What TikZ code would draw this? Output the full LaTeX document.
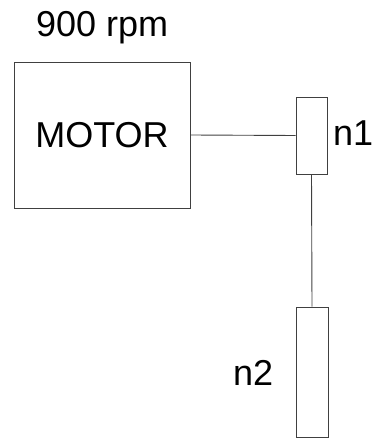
\documentclass[tikz,border=0pt]{standalone}
\usepackage{fontspec}
\setmainfont{Liberation Sans}
\begin{document}
\begin{tikzpicture}[x=1pt, y=-1pt,
  part/.style={draw=black!75, line width=0.9pt, inner sep=0pt},
  lbl/.style={inner sep=0pt, anchor=base west, font=\fontsize{36}{40}\selectfont}]
\useasboundingbox (0,0) rectangle (372,438);

% Motor
\node[part, minimum width=176pt, minimum height=146pt, font=\fontsize{36}{40}\selectfont] (motor) at (102,135) {MOTOR};
\node[lbl] (speed) at (36,37) {900 rpm};

% Pulleys
\node[part, minimum width=31pt, minimum height=77pt] (n1) at (311.5,135.5) {};
\node[part, minimum width=32pt, minimum height=130pt] (n2) at (312,372) {};
\node[lbl] (n1lbl) at (333,146) {n1};
\node[lbl] (n2lbl) at (233,385) {n2};

% Shafts
\draw[part] (motor.east) -- (n1.west);
\draw[part] (n1.south) -- (n2.north);

\end{tikzpicture}
\end{document}
